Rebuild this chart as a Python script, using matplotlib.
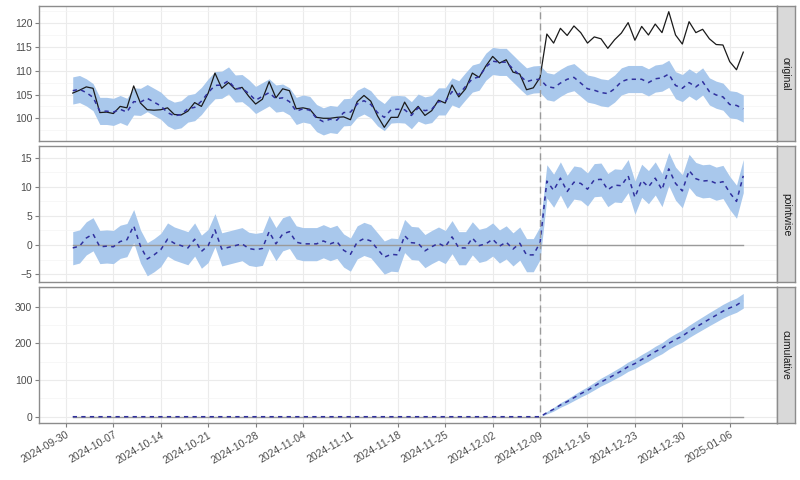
import matplotlib
matplotlib.use('Agg')
import matplotlib.pyplot as plt
import matplotlib.dates as mdates
from matplotlib.ticker import MultipleLocator
import numpy as np
import pandas as pd

plt.rcParams['font.family'] = ['Liberation Sans', 'DejaVu Sans']

dates = pd.date_range('2024-10-01', periods=100, freq='D')
intervention = pd.Timestamp('2024-12-09')
n_pre = 70

observed = [105.3, 105.9, 106.6, 106.3, 101.2, 101.3, 101.0, 102.5, 102.2, 106.8,
            103.2, 101.8, 101.7, 101.8, 102.2, 100.8, 100.7, 101.5, 103.3, 102.5,
            105.3, 109.5, 106.3, 107.5, 106.1, 106.5, 104.6, 103.0, 104.0, 107.7,
            104.3, 106.2, 105.8, 102.0, 102.2, 101.9, 100.2, 100.0, 100.0, 100.2,
            100.3, 99.7, 103.5, 104.8, 103.6, 100.5, 98.1, 100.2, 100.2, 103.4,
            101.0, 102.5, 100.6, 101.6, 103.8, 103.2, 107.0, 104.5, 106.2, 109.5,
            108.6, 111.0, 113.0, 111.6, 112.3, 109.7, 109.3, 106.0, 106.4, 108.6,
            117.7, 115.8, 118.9, 117.4, 119.4, 118.0, 115.8, 117.1, 116.7, 114.7,
            116.5, 117.9, 120.1, 116.4, 119.3, 117.5, 119.8, 118.0, 122.4, 117.5,
            115.6, 120.3, 118.0, 118.7, 116.7, 115.5, 115.4, 111.9, 110.2, 113.9]

predicted = [105.8, 106.1, 105.4, 104.4, 101.5, 101.5, 101.3, 101.9, 101.3, 103.5,
             103.4, 104.2, 103.4, 102.6, 101.2, 100.5, 100.8, 102.0, 102.3, 103.6,
             105.4, 106.9, 107.0, 107.9, 106.2, 106.3, 105.2, 103.8, 104.6, 105.4,
             104.1, 104.3, 103.5, 101.5, 102.0, 101.7, 100.0, 99.3, 99.8, 99.6,
             101.2, 101.3, 103.0, 103.7, 102.9, 101.2, 100.2, 101.8, 101.9, 101.8,
             100.6, 102.2, 101.6, 101.9, 103.5, 103.5, 105.6, 105.0, 106.7, 108.3,
             108.7, 110.8, 112.0, 111.8, 111.8, 110.4, 109.0, 107.7, 108.1, 108.2,
             106.7, 106.4, 107.4, 108.2, 108.6, 107.4, 106.2, 105.9, 105.4, 105.2,
             106.2, 107.7, 108.2, 108.2, 108.2, 107.5, 108.3, 108.5, 109.3, 106.9,
             106.3, 107.5, 106.6, 107.7, 105.6, 104.9, 104.5, 102.9, 102.7, 102.0]

pred_lower = [103.0, 103.3, 102.6, 101.6, 98.7, 98.7, 98.5, 99.1, 98.5, 100.7,
              100.6, 101.4, 100.6, 99.8, 98.4, 97.7, 98.0, 99.2, 99.5, 100.8,
              102.6, 104.1, 104.2, 105.1, 103.4, 103.5, 102.4, 101.0, 101.8, 102.6,
              101.3, 101.5, 100.7, 98.7, 99.2, 98.9, 97.2, 96.5, 97.0, 96.8,
              98.4, 98.5, 100.2, 100.9, 100.1, 98.4, 97.4, 99.0, 99.1, 99.0,
              97.8, 99.4, 98.8, 99.1, 100.7, 100.7, 102.8, 102.2, 103.9, 105.5,
              105.9, 108.0, 109.2, 109.0, 109.0, 107.6, 106.2, 104.9, 105.3, 105.4,
              103.9, 103.6, 104.6, 105.4, 105.8, 104.6, 103.4, 103.1, 102.6, 102.4,
              103.4, 104.9, 105.4, 105.4, 105.4, 104.7, 105.5, 105.7, 106.5, 104.1,
              103.5, 104.7, 103.8, 104.9, 102.8, 102.1, 101.7, 100.1, 99.9, 99.2]

pred_upper = [108.7, 109.0, 108.3, 107.3, 104.4, 104.4, 104.2, 104.8, 104.2, 106.4,
              106.3, 107.1, 106.3, 105.5, 104.1, 103.4, 103.7, 104.9, 105.2, 106.5,
              108.3, 109.8, 109.9, 110.8, 109.1, 109.2, 108.1, 106.7, 107.5, 108.3,
              107.0, 107.2, 106.4, 104.4, 104.9, 104.6, 102.9, 102.2, 102.7, 102.5,
              104.1, 104.2, 105.9, 106.6, 105.8, 104.1, 103.1, 104.7, 104.8, 104.7,
              103.5, 105.1, 104.5, 104.8, 106.4, 106.4, 108.5, 107.9, 109.6, 111.2,
              111.6, 113.7, 114.9, 114.7, 114.7, 113.3, 111.9, 110.6, 111.0, 111.1,
              109.6, 109.3, 110.3, 111.1, 111.5, 110.3, 109.1, 108.8, 108.3, 108.1,
              109.1, 110.6, 111.1, 111.1, 111.1, 110.4, 111.2, 111.4, 112.2, 109.8,
              109.2, 110.4, 109.5, 110.6, 108.5, 107.8, 107.4, 105.8, 105.6, 104.9]

# half width of the cumulative interval over the post period
cum_halfwidth = [3.5, 5.0, 6.2, 7.1, 8.0, 8.8, 9.5, 10.1, 10.7, 11.3,
                 11.8, 12.3, 12.8, 13.3, 13.8, 14.2, 14.7, 15.1, 15.5, 15.9,
                 16.3, 16.7, 17.1, 17.5, 17.9, 18.3, 18.7, 19.1, 19.5, 20.0]

panel_names = ['original', 'pointwise', 'cumulative']

obs = np.array(observed)
pred = np.array(predicted)
lo = np.array(pred_lower)
hi = np.array(pred_upper)

point = obs - pred
point_lo = obs - hi
point_hi = obs - lo

cum = np.concatenate([np.zeros(n_pre), np.cumsum(point[n_pre:])])
hw = np.concatenate([np.zeros(n_pre), np.array(cum_halfwidth)])
cum_lo = cum - hw
cum_hi = cum + hw

band_col = '#A9C8EC'
mean_col = '#30309E'
grey_txt = '#4D4D4D'

fig = plt.figure(figsize=(8, 4.8), dpi=100)
left, width = 0.049, 0.922
bottoms = [0.706, 0.4125, 0.119]
height = 0.2825

panels = [
    (lo, hi, pred, 5, 2.5),
    (point_lo, point_hi, point, 5, 2.5),
    (cum_lo, cum_hi, cum, 100, 50),
]

span = dates[-1] - dates[0]
xmin = dates[0] - span * 0.05
xmax = dates[-1] + span * 0.05
xticks = pd.date_range('2024-09-30', '2025-01-06', freq='7D')

for k, (blo, bhi, mean, major, minor) in enumerate(panels):
    ax = fig.add_axes([left, bottoms[k], width, height])
    ax.fill_between(dates, blo, bhi, color=band_col, lw=0, zorder=2)
    if k == 0:
        ax.plot(dates, obs, color='#1a1a1a', lw=0.9, zorder=4)
        vals = np.concatenate([blo, bhi, obs])
    else:
        ax.plot(dates, np.zeros(len(dates)), color='#9a9a9a', lw=1.0, zorder=3)
        vals = np.concatenate([blo, bhi])
    ax.plot(dates, mean, color=mean_col, lw=1.1, ls=(0, (2.8, 2.8)), zorder=5)
    ax.axvline(intervention, color='#9a9a9a', lw=1.0, ls=(0, (5, 3)), zorder=6)

    vmin, vmax = vals.min(), vals.max()
    pad = (vmax - vmin) * 0.05
    ax.set_ylim(vmin - pad, vmax + pad)
    ax.set_xlim(xmin, xmax)

    ax.yaxis.set_major_locator(MultipleLocator(major))
    ax.yaxis.set_minor_locator(MultipleLocator(minor))
    ax.set_xticks(xticks)
    ax.grid(True, which='major', color='#EBEBEB', lw=0.8, zorder=0)
    ax.grid(True, which='minor', axis='y', color='#F4F4F4', lw=0.5, zorder=0)
    ax.set_axisbelow(True)
    ax.tick_params(axis='both', which='major', colors='#7f7f7f', length=3,
                   width=0.8, labelsize=7.5, labelcolor=grey_txt, pad=2)
    ax.tick_params(axis='y', which='minor', length=0)
    for s in ax.spines.values():
        s.set_color('#8c8c8c')
        s.set_linewidth(1.0)

    if k < 2:
        ax.tick_params(axis='x', length=0, labelbottom=False)
    else:
        ax.xaxis.set_major_formatter(mdates.DateFormatter('%Y-%m-%d'))
        for lab in ax.get_xticklabels():
            lab.set_rotation(30)
            lab.set_ha('right')
            lab.set_rotation_mode('anchor')

    strip = fig.add_axes([left + width, bottoms[k], 0.0225, height])
    strip.set_facecolor('#D9D9D9')
    strip.set_xticks([])
    strip.set_yticks([])
    for s in strip.spines.values():
        s.set_color('#8c8c8c')
        s.set_linewidth(1.0)
    strip.text(0.5, 0.5, panel_names[k], rotation=270, ha='center', va='center',
               fontsize=7.5, color='#1a1a1a', transform=strip.transAxes)

fig.savefig('out.png', dpi=100)
